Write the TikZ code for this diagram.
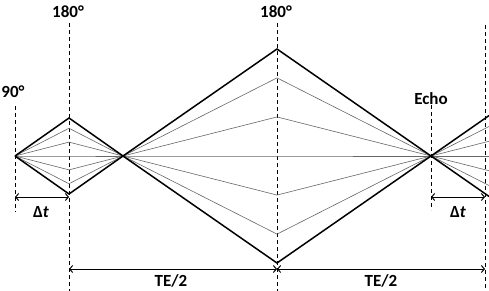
\documentclass[tikz,border=0pt]{standalone}
\usepackage{fontspec}
\setmainfont{Carlito}
\usetikzlibrary{arrows.meta}
\begin{document}
\begin{tikzpicture}[x=1pt,y=-1pt,
  outer/.style={line width=1.5pt, line join=miter},
  inner/.style={line width=0.6pt, draw=black!60},
  guide/.style={line width=0.9pt, dash pattern=on 4pt off 3pt},
  span/.style={{Straight Barb[length=3pt,width=7pt]}-{Straight Barb[length=3pt,width=7pt]}, line width=1pt},
  lbl/.style={font=\bfseries\fontsize{17}{19}\selectfont, inner sep=0pt}]
\useasboundingbox (0,0) rectangle (489,291);
% key points on the centre line
\coordinate (a) at (15,156);
\coordinate (b) at (69,156);
\coordinate (c) at (123,156);
\coordinate (d) at (277,156);
\coordinate (e) at (431,156);
\coordinate (f) at (485,156);
% dashed guides
\coordinate (g90t) at (15,106);   \coordinate (g90b) at (15,212);
\coordinate (g1t) at (69,23);     \coordinate (g1b) at (69,291);
\coordinate (g2t) at (277,23);    \coordinate (g2b) at (277,291);
\coordinate (gEt) at (431,105);   \coordinate (gEb) at (431,210);
\coordinate (g3t) at (485,25);    \coordinate (g3b) at (485,291);
\foreach \p in {g90,g1,g2,gE,g3} \draw[guide] (\p t) -- (\p b);
% inner (thin) lines
\foreach \k in {0.73,0.365,0,-0.365,-0.73} {
  \draw[inner] (a) -- (69,156-38*\k) -- (c);
  \draw[inner] (c) -- (277,156-107*\k) -- (e);
  \draw[inner] (e) -- (489,156-40.4*\k);
}
% outer (thick) lines
\foreach \k in {1,-1} {
  \draw[outer] (a) -- (69,156-38*\k) -- (c);
  \draw[outer] (c) -- (277,156-107*\k) -- (e);
  \draw[outer] (e) -- (489,156-40.4*\k);
}
% labels
\node[lbl] (l180a) at (68,12) {180°};
\node[lbl] (l180b) at (276,12) {180°};
\node[lbl] (l90) at (13,92) {90°};
\node[lbl] (lecho) at (431,99) {Echo};
% spans
\coordinate (dt1a) at (15,197);  \coordinate (dt1b) at (69,197);
\coordinate (dt2a) at (431,197); \coordinate (dt2b) at (485,197);
\coordinate (te1a) at (69,269);  \coordinate (te1b) at (277,269);
\coordinate (te2a) at (277,269); \coordinate (te2b) at (485,269);
\draw[span] (dt1a) -- (dt1b);
\draw[span] (dt2a) -- (dt2b);
\draw[span] (te1a) -- (te1b);
\draw[span] (te2a) -- (te2b);
\node[lbl] (ldt1) at (41,212) {Δ\textit{t}};
\node[lbl] (ldt2) at (458,212) {Δ\textit{t}};
\node[lbl] (lte1) at (171,281) {TE/2};
\node[lbl] (lte2) at (381,281) {TE/2};
\end{tikzpicture}
\end{document}
